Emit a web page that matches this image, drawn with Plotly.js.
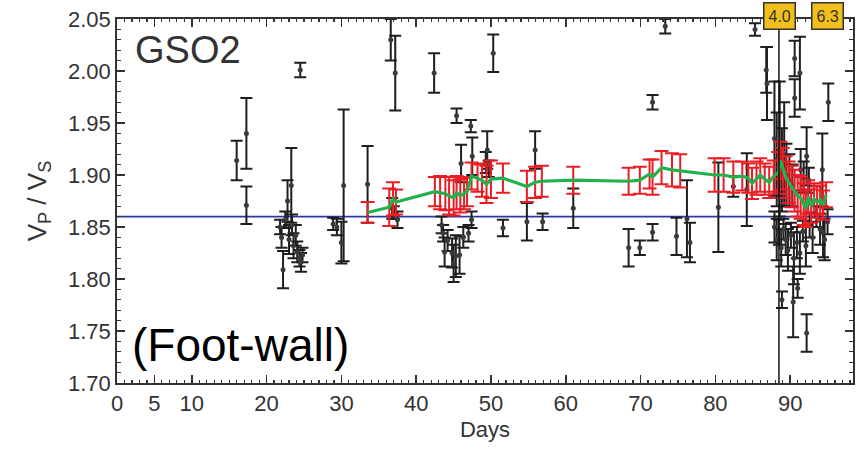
<!DOCTYPE html>
<html>
<head>
<meta charset="utf-8">
<script src="https://cdn.plot.ly/plotly-3.0.1.min.js"></script>
<style>html,body{margin:0;padding:0;background:#fff;}#chart{width:866px;height:455px;}</style>
</head>
<body>
<div id="chart"></div>
<script>
// Individual measurements (black)
const blackDays = [16.0,17.3,17.3,24.5,
  21.8,22.0,22.2,22.5,22.8,23.0,23.3,23.4,23.6,23.9,24.1,24.4,24.6,24.8,
  28.9,29.4,30.0,30.3,33.5,
  36.6,37.2,37.0,37.5,36.8,
  42.4,45.4,47.3,46.0,47.5,49.5,49.3,49.7,50.3,
  43.4,43.6,43.8,44.2,44.8,45.0,45.3,45.8,46.3,47.0,47.4,
  51.6,54.8,55.9,56.9,61.0,
  68.4,69.9,71.6,71.6,73.3,74.8,76.2,76.6,
  80.4,82.4,84.2,85.3,86.8,86.9,
  87.9,88.2,88.6,88.9,89.2,89.5,89.9,90.3,90.6,90.6,91.3,91.4,91.8,92.2,92.5,94.3,95.1,
  87.9,88.2,88.5,88.8,89.1,89.4,89.7,90.1,90.5,90.9,91.3,91.7,92.1,92.6,93.0,93.5,94.0,94.4,94.6,95.0,
  88.9,90.4,91.0,92.2];
const blackRatio = [1.914,1.940,1.871,2.001,
  1.850,1.840,1.809,1.857,1.875,1.838,1.890,1.852,1.832,1.842,1.826,1.820,1.816,1.823,
  1.853,1.850,1.835,1.890,1.891,
  2.030,1.998,1.864,1.857,1.868,
  1.998,1.957,1.947,1.911,1.918,1.924,1.912,1.906,2.017,
  1.852,1.844,1.826,1.837,1.825,1.815,1.822,1.823,1.840,1.844,1.857,
  1.849,1.855,1.924,1.855,1.868,
  1.830,1.830,1.845,1.970,2.043,1.841,1.858,1.835,
  1.869,1.889,1.886,2.040,2.001,1.988,
  1.935,1.915,1.925,1.905,1.920,1.900,1.895,1.890,2.012,1.974,1.998,1.905,1.898,1.918,1.895,1.905,1.970,
  1.850,1.838,1.845,1.830,1.848,1.838,1.828,1.842,1.820,1.835,1.825,1.846,1.832,1.852,1.840,1.860,1.848,1.845,1.838,1.855,
  1.780,1.778,1.791,1.748];
const blackErr = [0.019,0.034,0.018,0.007,
  0.007,0.010,0.018,0.008,0.020,0.014,0.036,0.010,0.012,0.010,0.010,0.008,0.009,0.007,
  0.006,0.008,0.020,0.073,0.037,
  0.020,0.036,0.006,0.008,0.010,
  0.019,0.007,0.006,0.018,0.018,0.018,0.010,0.008,0.018,
  0.008,0.008,0.014,0.010,0.014,0.018,0.020,0.018,0.010,0.008,0.008,
  0.008,0.018,0.018,0.008,0.019,
  0.018,0.007,0.008,0.007,0.007,0.018,0.037,0.019,
  0.043,0.010,0.035,0.006,0.022,0.035,
  0.055,0.045,0.065,0.040,0.050,0.030,0.025,0.020,0.017,0.018,0.035,0.020,0.015,0.028,0.012,0.035,0.018,
  0.015,0.020,0.012,0.018,0.010,0.015,0.020,0.012,0.025,0.015,0.020,0.010,0.020,0.012,0.015,0.010,0.015,0.024,0.020,0.012,
  0.008,0.034,0.009,0.018];

// Averaged values (red error bars, green line)
const avgDays = [33.5,36.4,36.9,37.3,42.5,43.2,43.9,44.4,45.0,45.4,45.9,46.4,46.8,47.4,48.2,48.8,49.4,50.0,51.6,
  54.8,55.9,56.8,61.0,68.4,69.9,71.2,71.6,72.8,74.2,75.3,79.9,81.1,82.4,83.6,84.4,84.9,85.5,86.0,86.6,87.2,87.8,
  88.4,88.7,89.0,89.4,89.8,90.2,90.6,91.0,91.4,91.8,92.1,92.4,92.8,93.2,93.6,94.0,94.4,94.8];
const avgRatio = [1.864,1.869,1.877,1.874,1.884,1.883,1.882,1.880,1.878,1.883,1.880,1.882,1.884,1.899,1.897,1.895,1.891,1.896,1.897,
  1.889,1.893,1.894,1.895,1.894,1.895,1.901,1.898,1.907,1.905,1.904,1.900,1.900,1.898,1.899,1.897,1.892,1.897,1.900,1.896,1.893,1.899,
  1.902,1.914,1.906,1.898,1.893,1.889,1.885,1.880,1.878,1.872,1.868,1.879,1.870,1.877,1.874,1.876,1.871,1.881];
const avgErr = [0.010,0.018,0.016,0.012,0.014,0.016,0.016,0.018,0.017,0.016,0.016,0.015,0.014,0.013,0.013,0.016,0.018,0.018,0.014,
  0.015,0.015,0.015,0.013,0.013,0.013,0.014,0.017,0.016,0.016,0.016,0.016,0.016,0.015,0.014,0.014,0.015,0.016,0.016,0.015,0.015,0.015,
  0.020,0.018,0.020,0.020,0.020,0.020,0.020,0.020,0.020,0.020,0.018,0.016,0.016,0.015,0.015,0.014,0.014,0.012];

const referenceRatio = 1.86;
const eventDay = 88.5;
const eventLabels = ['4.0','6.3'];
const eventLabelDays = [88.6, 95.0];
const xTickVals = [0,5,10,20,30,40,50,60,70,80,90];
const xTickText = ['0','5','10','20','30','40','50','60','70','80','90'];
const yTickVals = [1.70,1.75,1.80,1.85,1.90,1.95,2.00,2.05];
const yTickText = ['1.70','1.75','1.80','1.85','1.90','1.95','2.00','2.05'];

const FONT = 'Liberation Sans, Arial, sans-serif';

const traces = [
  {x: blackDays, y: blackRatio, type: 'scatter', mode: 'markers',
   marker: {size: 5, color: '#3a3a3a', symbol: 'circle'},
   error_y: {type: 'data', array: blackErr, visible: true, color: '#1e1e1e', thickness: 2, width: 6},
   hoverinfo: 'x+y', showlegend: false},
  {x: avgDays, y: avgRatio, type: 'scatter', mode: 'markers',
   marker: {size: 1, color: '#ec1c24'},
   error_y: {type: 'data', array: avgErr, visible: true, color: '#ec1c24', thickness: 2, width: 7},
   showlegend: false},
  {x: avgDays, y: avgRatio, type: 'scatter', mode: 'lines',
   line: {color: '#22b14c', width: 3.2}, showlegend: false}
];

const tickFont = {family: FONT, size: 22, color: '#333'};

const annotations = [
  {text: 'GSO2', xref: 'paper', yref: 'paper', x: 0.022, y: 0.915, xanchor: 'left', yanchor: 'middle',
   showarrow: false, font: {family: FONT, size: 38, color: '#333'}},
  {text: '(Foot-wall)', xref: 'paper', yref: 'paper', x: 0.018, y: 0.105, xanchor: 'left', yanchor: 'middle',
   showarrow: false, font: {family: FONT, size: 46, color: '#000'}}
];
eventLabels.forEach((t, i) => annotations.push({
  text: t, xref: 'x', yref: 'paper', x: eventLabelDays[i], y: 1.008, xanchor: 'center', yanchor: 'middle',
  showarrow: false, bgcolor: '#f2be1a', bordercolor: '#333', borderwidth: 1.5, borderpad: 4,
  font: {family: FONT, size: 16, color: '#333'}
}));

const layout = {
  width: 866, height: 455,
  margin: {l: 117, r: 13, t: 19, b: 72},
  paper_bgcolor: '#fff', plot_bgcolor: '#fff',
  showlegend: false,
  xaxis: {range: [0, 98.4], tickvals: xTickVals, ticktext: xTickText,
    ticks: 'inside', ticklen: 8, tickwidth: 1.5, tickcolor: '#333',
    minor: {dtick: 1, ticks: 'inside', ticklen: 3, tickwidth: 1.2, tickcolor: '#333'},
    showline: true, linecolor: '#333', linewidth: 1.8, mirror: 'allticks',
    showgrid: false, zeroline: false, tickfont: tickFont,
    title: {text: 'Days', font: {family: FONT, size: 22, color: '#333'}, standoff: 6}},
  yaxis: {range: [1.70, 2.05], tickvals: yTickVals, ticktext: yTickText,
    ticks: 'inside', ticklen: 8, tickwidth: 1.5, tickcolor: '#333',
    minor: {dtick: 0.01, ticks: 'inside', ticklen: 4, tickwidth: 1.2, tickcolor: '#333'},
    showline: true, linecolor: '#333', linewidth: 1.8, mirror: 'allticks',
    showgrid: false, zeroline: false, tickfont: tickFont,
    title: {text: 'V<sub>P</sub> / V<sub>S</sub>', font: {family: FONT, size: 26, color: '#333'}, standoff: 14}},
  shapes: [
    {type: 'line', xref: 'paper', yref: 'y', x0: 0, x1: 1, y0: referenceRatio, y1: referenceRatio,
     line: {color: '#2b3a9e', width: 1.6}, layer: 'below'},
    {type: 'line', xref: 'x', yref: 'paper', x0: eventDay, x1: eventDay, y0: 0, y1: 1,
     line: {color: '#111', width: 1.5}, layer: 'above'}
  ],
  annotations: annotations
};

Plotly.newPlot('chart', traces, layout, {displayModeBar: false, staticPlot: true});
</script>
</body>
</html>
